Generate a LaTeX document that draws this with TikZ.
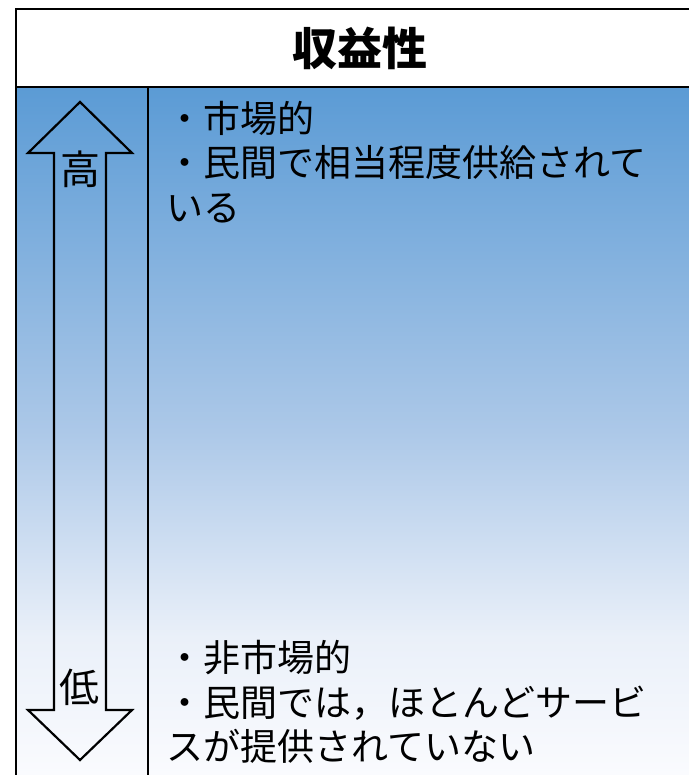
\documentclass[tikz,border=0pt]{standalone}
\usepackage{fontspec}
\newfontfamily\jp{Noto Sans CJK JP}
\definecolor{topblue}{RGB}{91,155,213}
\definecolor{midblue}{RGB}{172,200,232}
\definecolor{paleblue}{RGB}{234,240,249}
\definecolor{botwhite}{RGB}{250,251,254}
\pgfdeclareverticalshading{bgshade}{100bp}{color(0bp)=(botwhite); color(25bp)=(botwhite); color(35bp)=(paleblue); color(50bp)=(midblue); color(75bp)=(topblue); color(100bp)=(topblue)}
\begin{document}
\begin{tikzpicture}[x=1bp,y=-1bp,
  frame/.style={draw=black,line width=2.5bp},
  arrowline/.style={draw=black,line width=2.2bp,line join=miter},
  bodytext/.style={inner sep=0pt,anchor=base west,font=\jp\fontsize{37bp}{44bp}\selectfont},
  marktext/.style={inner sep=0pt,font=\jp\fontsize{40bp}{40bp}\selectfont},
  headtext/.style={inner sep=0pt,font=\jp\bfseries\fontsize{45bp}{45bp}\selectfont}]
\useasboundingbox (0,0) rectangle (689,775);
\clip (0,0) rectangle (689,775);
\shade[shading=bgshade] (16,87) rectangle (704,775);
\draw[frame] (16,9) rectangle (704,790);
\draw[frame] (16,87) -- (704,87);
\draw[frame] (148,87) -- (148,790);
% double arrow
\draw[arrowline] (80,102) -- (132,153) -- (106,153) -- (106,710) -- (132,710) -- (80,760)
  -- (28,710) -- (54,710) -- (54,153) -- (28,153) -- cycle;
\node[headtext] (title) at (360,48) {収益性};
\node[marktext] (high) at (80,169) {高};
\node[marktext] (low) at (79,687) {低};
\node[bodytext] (t1) at (166,132) {・市場的};
\node[bodytext] (t2) at (166,176) {・民間で相当程度供給されて};
\node[bodytext] (t3) at (166,221) {いる};
\node[bodytext] (b1) at (166,671) {・非市場的};
\node[bodytext] (b2) at (166,716) {・民間では，ほとんどサービ};
\node[bodytext] (b3) at (166,760) {スが提供されていない};
\end{tikzpicture}
\end{document}
